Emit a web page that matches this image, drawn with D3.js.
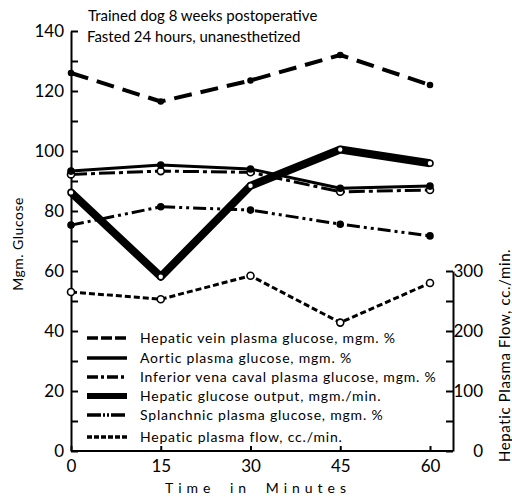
<!DOCTYPE html>
<html>
<head>
<meta charset="utf-8">
<script src="https://cdn.jsdelivr.net/npm/d3@7"></script>
<style>
  body { margin: 0; background: #fff; }
  text { font-family: Lato, "Open Sans", sans-serif; fill: #000; }
  .axis path, .axis line { stroke: #000; stroke-width: 2; }
  .axis text { font-size: 17px; }
</style>
</head>
<body>
<script>
// ---- data ----
const minutes = [0, 15, 30, 45, 60];
const hepaticVein = [126, 116.5, 123.5, 132, 122];
const aortic = [93.3, 95.3, 94, 87.6, 88.3];
const venaCava = [92.2, 93.3, 92.9, 86.4, 87];
const hepaticOutput = [86.2, 58.1, 88.4, 100.5, 95.9];
const splanchnic = [75.3, 81.4, 80.3, 75.6, 71.7];
const plasmaFlow = [265, 253, 292, 214, 280];   // right axis, cc./min.

const glucoseTicks = [0, 10, 20, 30, 40, 50, 60, 70, 80, 90, 100, 110, 120, 130, 140];
const flowTicks = [0, 50, 100, 150, 200, 250, 300];
const timeTicks = [0, 15, 30, 45, 60];

const legendLabels = [
  "Hepatic vein plasma glucose, mgm. %",
  "Aortic plasma glucose, mgm. %",
  "Inferior vena caval plasma glucose, mgm. %",
  "Hepatic glucose output, mgm./min.",
  "Splanchnic plasma glucose, mgm. %",
  "Hepatic plasma flow, cc./min."
];

const W = 512, H = 497;

const svg = d3.select("body").append("svg")
    .attr("width", W)
    .attr("height", H);

// scales
const x = d3.scaleLinear().domain([0, 60]).range([71, 430]);
const y = d3.scaleLinear().domain([0, 140]).range([451, 31]);
const yFlow = d3.scaleLinear().domain([0, 300]).range([451, 271]);
const rightX = 453;

// ---------- axes ----------
svg.append("g")
    .attr("class", "axis")
    .attr("transform", "translate(71,0)")
    .call(d3.axisLeft(y).tickValues(glucoseTicks).tickSize(-7).tickSizeOuter(0).tickPadding(7)
        .tickFormat(d => d % 20 === 0 ? d : ""));

svg.append("g")
    .attr("class", "axis")
    .attr("transform", "translate(" + rightX + ",0)")
    .call(d3.axisRight(yFlow).tickValues(flowTicks).tickSize(-7).tickSizeOuter(0).tickPadding(30)
        .tickFormat(d => d % 100 === 0 ? d : ""))
    .selectAll("text").attr("text-anchor", "end");

const xAxis = svg.append("g")
    .attr("class", "axis")
    .attr("transform", "translate(0,451)")
    .call(d3.axisBottom(x).tickValues(timeTicks).tickSize(-5).tickSizeOuter(0).tickPadding(9));
xAxis.select(".domain").remove();
svg.append("line")
    .attr("x1", 71).attr("x2", rightX)
    .attr("y1", 451).attr("y2", 451)
    .attr("stroke", "#000").attr("stroke-width", 2);

// axis titles
svg.append("text")
    .attr("transform", "translate(23,244) rotate(-90)")
    .attr("text-anchor", "middle")
    .style("font-size", "14px")
    .style("letter-spacing", "0.5px")
    .text("Mgm. Glucose");

svg.append("text")
    .attr("transform", "translate(510,462) rotate(-90)")
    .attr("text-anchor", "start")
    .style("font-size", "15px")
    .style("letter-spacing", "0.6px")
    .text("Hepatic Plasma Flow, cc./min.");

svg.append("text")
    .attr("x", 258).attr("y", 493)
    .attr("text-anchor", "middle")
    .style("font-size", "14px")
    .style("letter-spacing", "5px")
    .style("word-spacing", "6px")
    .text("Time in Minutes");

svg.append("text")
    .attr("x", 88).attr("y", 21)
    .style("font-size", "15px")
    .text("Trained dog  8 weeks postoperative");
svg.append("text")
    .attr("x", 87).attr("y", 42)
    .style("font-size", "15px")
    .text("Fasted  24 hours,  unanesthetized");

// ---------- series ----------
const series = [
  {name: legendLabels[5], values: plasmaFlow, scale: yFlow, width: 3, dash: "6,3", legendDash: "5,2", marker: "open", r: 3.5},
  {name: legendLabels[4], values: splanchnic, scale: y, width: 3, dash: "13,4,3,4,3,4", legendDash: "14,2,2,2,2,2", marker: "filled", r: 3},
  {name: legendLabels[2], values: venaCava, scale: y, width: 3, dash: "16,4,4,4", legendDash: "11,3,3,3", marker: "open", r: 3.5},
  {name: legendLabels[1], values: aortic, scale: y, width: 3, dash: null, legendDash: null, marker: "filled", r: 3},
  {name: legendLabels[3], values: hepaticOutput, scale: y, width: 8, dash: null, legendDash: null, marker: "open", r: 3},
  {name: legendLabels[0], values: hepaticVein, scale: y, width: 4, dash: "18,9", legendDash: "11,3", marker: "filled", r: 2.5}
];

series.forEach(s => {
  const pts = minutes.map((m, i) => [x(m), s.scale(s.values[i])]);
  svg.append("path")
      .attr("d", d3.line()(pts))
      .attr("fill", "none")
      .attr("stroke", "#000")
      .attr("stroke-width", s.width)
      .attr("stroke-linejoin", "round")
      .attr("stroke-dasharray", s.dash);
  svg.append("g")
      .selectAll("circle")
      .data(pts)
      .enter()
      .append("circle")
          .attr("cx", d => d[0])
          .attr("cy", d => d[1])
          .attr("r", s.r)
          .attr("fill", s.marker === "open" ? "#fff" : "#000")
          .attr("stroke", "#000")
          .attr("stroke-width", 1.6);
});

// ---------- legend ----------
const legendRows = [338, 358, 377, 396, 415, 437];
legendLabels.forEach((label, i) => {
  const s = series.find(d => d.name === label);
  svg.append("line")
      .attr("x1", 87).attr("x2", 127)
      .attr("y1", legendRows[i]).attr("y2", legendRows[i])
      .attr("stroke", "#000")
      .attr("stroke-width", s.width === 8 ? 6 : 3.5)
      .attr("stroke-dasharray", s.legendDash);
  svg.append("text")
      .attr("x", 140)
      .attr("y", legendRows[i] + 5)
      .style("font-size", "14px")
      .style("letter-spacing", "0.8px")
      .text(label);
});
</script>
</body>
</html>
